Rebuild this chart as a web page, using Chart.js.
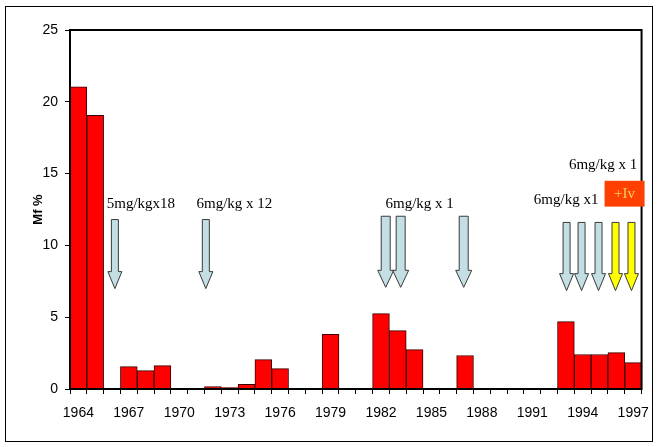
<!DOCTYPE html>
<html>
<head>
<meta charset="utf-8">
<script src="https://cdn.jsdelivr.net/npm/chart.js@4/dist/chart.umd.min.js"></script>
<style>
  html, body { margin: 0; padding: 0; background: #fff; }
  #wrap { width: 660px; height: 447px; position: relative; }
</style>
</head>
<body>
<div id="wrap"><canvas id="c" width="660" height="447"></canvas></div>
<script>
// ---- data ----
const years = [];
for (let y = 1964; y <= 1997; y++) years.push(String(y));
const mfValues = [
  21.05, 19.05, 0, 1.56, 1.28, 1.63, 0, 0, 0.17, 0.1,
  0.33, 2.05, 1.42, 0, 0, 3.81, 0, 0, 5.25, 4.07,
  2.74, 0, 0, 2.33, 0, 0, 0, 0, 0, 4.69,
  2.4, 2.4, 2.53, 1.84
];
const xTickLabels = ['1964','1967','1970','1973','1976','1979','1982','1985','1988','1991','1994','1997'];
const yTicks = [0, 5, 10, 15, 20, 25];

// annotation arrows (x as fractional category index, top/tip in data units)
const arrowsBlue = [
  {x: 2.17, top: 11.8, tip: 6.99, w: 7, hw: 14},
  {x: 7.58, top: 11.8, tip: 6.99, w: 7, hw: 14},
  {x: 18.28, top: 12.03, tip: 7.08, w: 9, hw: 16},
  {x: 19.17, top: 12.03, tip: 7.08, w: 9, hw: 16},
  {x: 22.92, top: 12.03, tip: 7.08, w: 9, hw: 16},
  {x: 29.04, top: 11.6, tip: 6.85, w: 7, hw: 14},
  {x: 29.93, top: 11.6, tip: 6.85, w: 7, hw: 14},
  {x: 30.94, top: 11.6, tip: 6.85, w: 7, hw: 14}
];
const arrowsYellow = [
  {x: 31.95, top: 11.6, tip: 6.85, w: 7, hw: 14},
  {x: 32.90, top: 11.6, tip: 6.85, w: 7, hw: 14}
];
const noteTexts = [
  {text: '5mg/kgx18', x: 3.72, y: 12.6},
  {text: '6mg/kg x 12', x: 9.28, y: 12.6},
  {text: '6mg/kg x 1', x: 20.30, y: 12.58},
  {text: '6mg/kg x1', x: 29.01, y: 12.88},
  {text: '6mg/kg x 1', x: 31.21, y: 15.32}
];
const ivBox = {text: '+Iv', x0: 31.3, x1: 33.68, y0: 14.5, y1: 12.7};

const annotationPlugin = {
  id: 'notes',
  beforeDraw(chart) {
    const ctx = chart.ctx;
    ctx.save();
    ctx.fillStyle = '#fff';
    ctx.fillRect(0, 0, chart.width, chart.height);
    ctx.strokeStyle = '#000';
    ctx.lineWidth = 1;
    ctx.strokeRect(5.5, 6.5, 647, 435);
    ctx.restore();
  },
  afterDraw(chart) {
    const ctx = chart.ctx;
    const xs = chart.scales.x, ys = chart.scales.y;
    const a = chart.chartArea;
    ctx.save();
    // plot frame
    ctx.strokeStyle = '#000';
    ctx.lineWidth = 2;
    ctx.strokeRect(a.left, a.top, a.right - a.left, a.bottom - a.top);

    function arrow(ar, fill) {
      const cx = xs.getPixelForValue(ar.x);
      const t = ys.getPixelForValue(ar.top);
      const tip = ys.getPixelForValue(ar.tip);
      const hl = 17;
      const hb = tip - hl;
      ctx.beginPath();
      ctx.moveTo(cx - ar.w / 2, t);
      ctx.lineTo(cx + ar.w / 2, t);
      ctx.lineTo(cx + ar.w / 2, hb);
      ctx.lineTo(cx + ar.hw / 2, hb);
      ctx.lineTo(cx, tip);
      ctx.lineTo(cx - ar.hw / 2, hb);
      ctx.lineTo(cx - ar.w / 2, hb);
      ctx.closePath();
      ctx.fillStyle = fill;
      ctx.fill();
      ctx.strokeStyle = '#3a3a3a';
      ctx.lineWidth = 1;
      ctx.stroke();
    }
    arrowsBlue.forEach(ar => arrow(ar, '#c4dfe3'));
    arrowsYellow.forEach(ar => arrow(ar, '#ffff00'));

    ctx.font = '15px "Liberation Serif", "Times New Roman", serif';
    ctx.fillStyle = '#000';
    ctx.textAlign = 'center';
    ctx.textBaseline = 'alphabetic';
    noteTexts.forEach(n => {
      ctx.fillText(n.text, xs.getPixelForValue(n.x), ys.getPixelForValue(n.y));
    });

    const bx0 = xs.getPixelForValue(ivBox.x0), bx1 = xs.getPixelForValue(ivBox.x1);
    const by0 = ys.getPixelForValue(ivBox.y0), by1 = ys.getPixelForValue(ivBox.y1);
    ctx.fillStyle = '#ff4000';
    ctx.fillRect(bx0, by0, bx1 - bx0, by1 - by0);
    ctx.fillStyle = '#f5d060';
    ctx.font = '15px "Liberation Serif", "Times New Roman", serif';
    ctx.textBaseline = 'middle';
    ctx.fillText(ivBox.text, (bx0 + bx1) / 2, (by0 + by1) / 2);
    ctx.restore();
  }
};

new Chart(document.getElementById('c'), {
  type: 'bar',
  data: {
    labels: years,
    datasets: [{
      data: mfValues,
      backgroundColor: '#ff0000',
      borderColor: '#3a0000',
      borderWidth: 1,
      barPercentage: 1,
      categoryPercentage: 1
    }]
  },
  options: {
    responsive: false,
    animation: false,
    devicePixelRatio: 1,
    layout: { padding: { top: 30, right: 18, bottom: 0, left: 0 } },
    plugins: { legend: { display: false }, tooltip: { enabled: false } },
    scales: {
      x: {
        afterFit(s) { s.height = 58; },
        grid: { display: true, drawOnChartArea: false, drawTicks: true, tickLength: 5, color: '#000', lineWidth: 1, offset: true },
        border: { display: true, color: '#000', width: 2 },
        ticks: {
          autoSkip: false, maxRotation: 0, minRotation: 0, padding: 11,
          color: '#000',
          font: { family: '"Liberation Sans", Arial, sans-serif', size: 14 },
          callback(v, i) { const l = years[i]; return xTickLabels.includes(l) ? l : ''; }
        }
      },
      y: {
        min: 0, max: 25,
        afterFit(s) { s.width = 70; },
        afterBuildTicks(s) { s.ticks = yTicks.map(v => ({value: v})); },
        grid: { display: true, drawOnChartArea: false, drawTicks: true, tickLength: 5, color: '#000', lineWidth: 1 },
        border: { display: true, color: '#000', width: 2 },
        ticks: {
          padding: 7, color: '#000',
          font: { family: '"Liberation Sans", Arial, sans-serif', size: 14 }
        },
        title: {
          display: true, text: 'Mf %', color: '#000',
          padding: { top: 31, bottom: 0 },
          font: { family: '"Liberation Sans", Arial, sans-serif', size: 13, weight: 'bold' }
        }
      }
    }
  },
  plugins: [annotationPlugin]
});
</script>
</body>
</html>
